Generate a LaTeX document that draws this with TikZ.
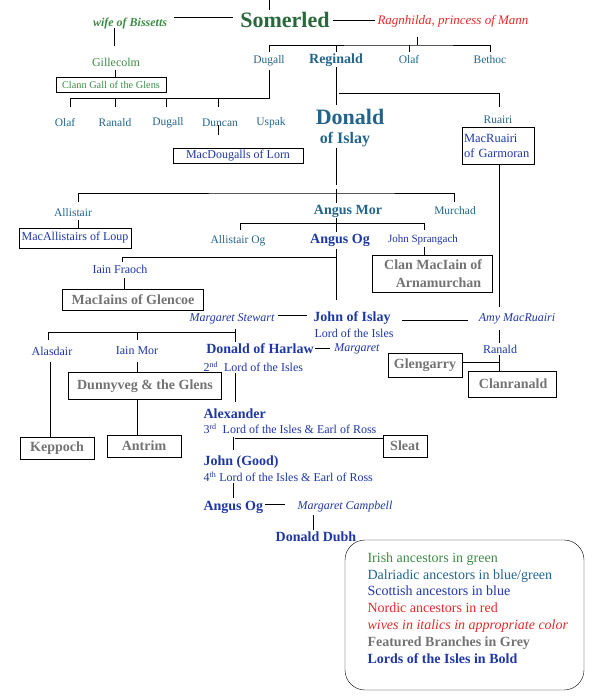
\documentclass[tikz,border=0pt]{standalone}
\usepackage{fontspec}
\setmainfont{Liberation Serif}
\usetikzlibrary{calc}
\definecolor{irishgreen}{RGB}{60,140,70}
\definecolor{somgreen}{RGB}{40,105,60}
\definecolor{dalblue}{RGB}{35,100,140}
\definecolor{scotblue}{RGB}{30,55,165}
\definecolor{nordred}{RGB}{230,40,40}
\definecolor{branchgrey}{RGB}{115,115,115}
\tikzset{
  irish/.style={text=irishgreen,font=\fontsize{12}{14}\selectfont},
  dal/.style={text=dalblue,font=\fontsize{11.5}{13}\selectfont},
  scot/.style={text=scotblue,font=\fontsize{12}{14}\selectfont},
  lord/.style={text=scotblue,font=\fontsize{14}{16}\selectfont\bfseries},
  wife/.style={text=scotblue,font=\fontsize{12}{14}\selectfont\itshape},
  clan/.style={draw,thick,inner sep=2pt,align=left},
  branch/.style={clan,text=branchgrey,font=\fontsize{14}{18}\selectfont\bfseries},
  kin/.style={thick}
}
\begin{document}
\begin{tikzpicture}[x=1pt,y=-1pt]
  \useasboundingbox (0,0) rectangle (600,700);

  % top generation
  \node (somerled) at (285,20) [text=somgreen,font=\fontsize{22}{24}\selectfont\bfseries] {Somerled};
  \node (bissetts) at (130,24) [irish,font=\fontsize{12}{14}\selectfont\bfseries\itshape] {wife of Bissetts};
  \node (ragnhilda) at (453,21) [text=nordred,font=\fontsize{13}{15}\selectfont\itshape] {Ragnhilda, princess of Mann};
  \coordinate (topend) at (269,0);
  \draw[kin] (topend) -- ++(0,10);
  \draw[kin] (174,17) -- (233,17);
  \draw[kin] (333,20) -- (375,20);

  \node (gillecolm) at (116,62) [irish] {Gillecolm};
  \node (clanngall) at (111,85) [clan,irish,font=\fontsize{10.3}{12}\selectfont,minimum width=110pt,minimum height=15pt] {Clann Gall of the Glens};
  \draw[kin] (114,28) -- (114,46);
  \draw[kin] (115,70) -- (clanngall.north -| 115,0);

  \node (dugall) at (269,61) [dal] {Dugall};
  \node (reginald) at (336,60) [lord,text=dalblue] {Reginald};
  \node (olaf) at (409,60) [dal] {Olaf};
  \node (bethoc) at (490,60) [dal] {Bethoc};
  \coordinate (sons) at (417,45);
  \draw[kin] (sons) -- ++(0,-8);
  \draw[kin] (269,52) |- (sons) -| (490,52);
  \draw[kin] (336,45) -- (336,52);
  \draw[kin] (409,45) -- (409,52);

  % sons of Dugall
  \foreach \nm/\x/\lb in {olafb/65/Olaf, ranald/115/Ranald, dugallb/168/Dugall, duncan/220/Duncan, uspak/271/Uspak}
    \node (\nm) at (\x,123) [dal] {\lb};
  \draw[kin] (dugall.south) -- (269,98) -| (70,107);
  \foreach \x in {115,166,218}
    \draw[kin] (\x,98) -- (\x,107);
  \node (lorn) at (238,156) [clan,scot,minimum width=130pt,minimum height=14pt] {MacDougalls of Lorn};
  \draw[kin] (218,125) -- (218,135);

  % Donald of Islay
  \node (donald) at (350,117) [lord,text=dalblue,font=\fontsize{22}{24}\selectfont\bfseries] {Donald};
  \node (donaldb) at (345,140) [lord,text=dalblue,font=\fontsize{16}{18}\selectfont\bfseries] {of Islay};
  \draw[kin] (336,67) -- (336,105);
  \draw[kin] (339,93) -| (499,107);
  \node (ruairi) at (498,120) [dal] {Ruairi};
  \node (garmoran) at (498,146) [clan,scot,text width=68pt,minimum height=37pt,font=\fontsize{12.5}{15}\selectfont] {MacRuairi of Garmoran};
  \draw[kin] (336,148) -- (336,185);

  % sons of Donald
  \coordinate (gen3) at (336,193);
  \draw[kin] (gen3) -- ++(0,-4);
  \draw[kin] (78,202) |- (gen3) -| (454,202);
  \node (allistair) at (73,213) [dal] {Allistair};
  \node (loup) at (75,238) [clan,scot,minimum width=112pt,minimum height=20pt] {MacAllistairs of Loup};
  \draw[kin] (78,220) -- (loup.north -| 78,0);
  \node (angusmor) at (348,211) [lord,text=dalblue] {Angus Mor};
  \node (murchad) at (455,211) [dal] {Murchad};
  \draw[kin] (336,193) -- (336,203);

  % sons of Angus Mor
  \node (allistairog) at (238,241) [dal] {Allistair Og};
  \node (angusog) at (340,240) [lord] {Angus Og};
  \node (sprangach) at (423,240) [scot,font=\fontsize{11}{13}\selectfont] {John Sprangach};
  \draw[kin] (240,230) |- (424,223) -- (424,230);
  \draw[kin] (336,218) -- (336,232);
  \node (arnamurchan) at (432,274) [branch,minimum width=120pt,minimum height=37pt] {\,Clan MacIain of\\\quad Arnamurchan};
  \draw[kin] (424,247) -- (arnamurchan.north -| 424,0);

  \node (fraoch) at (120,269) [scot] {Iain Fraoch};
  \node (glencoe) at (133,300) [branch,minimum width=141pt,minimum height=21pt] {MacIains of Glencoe};
  \draw[kin] (336,249) -- (336,300);
  \draw[kin] (336,257) -| (122,262);
  \draw[kin] (124,278) -- (glencoe.north -| 124,0);

  % John of Islay
  \node (john) at (352,318) [lord] {John of Islay};
  \node (johnb) at (354,333) [scot] {Lord of the Isles};
  \node (mstewart) at (232,319) [wife] {Margaret Stewart};
  \node (amy) at (517,319) [wife] {Amy MacRuairi};
  \draw[kin] (278,315) -- (307,315);
  \draw[kin] (402,320) -- (468,320);
  \draw[kin] (garmoran.south -| 499,0) -- (499,307);

  % sons of John by Margaret Stewart
  \draw[kin] (235,329) -- (235,342);
  \draw[kin] (48,340) |- (235,332);
  \draw[kin] (137,332) -- (137,340);
  \node (alasdair) at (52,351) [scot] {Alasdair};
  \node (iainmor) at (137,351) [scot] {Iain Mor};
  \node (dunnyveg) at (145,386) [branch,minimum width=153pt,minimum height=27pt] {Dunnyveg \& the Glens};
  \node (keppoch) at (57,448) [branch,minimum width=74pt,minimum height=22pt] {Keppoch};
  \node (antrim) at (144,446) [branch,minimum width=74pt,minimum height=22pt] {Antrim};
  \draw[kin] (50,362) -- (keppoch.north -| 50,0);
  \draw[kin] (137,362) -- (dunnyveg.north -| 137,0);
  \draw[kin] (dunnyveg.south -| 137,0) -- (antrim.north -| 137,0);

  \node (harlaw) at (260,349) [lord] {Donald of Harlaw};
  \node (margaret) at (357,349) [wife] {Margaret};
  \draw[kin] (315,348) -- (330,348);
  \node[anchor=west] (harlawb) at (200,367) [scot] {2\textsuperscript{nd}\enspace Lord of the Isles};
  \draw[kin] (235,373) -- (235,402);

  % sons of John by Amy
  \node (ranaldb) at (500,349) [scot] {Ranald};
  \draw[kin] (499,330) -- (499,343);
  \node (glengarry) at (425,365) [branch,minimum width=74pt,minimum height=24pt] {Glengarry};
  \node (clanranald) at (512,384) [branch,minimum width=88pt,minimum height=26pt] {\,Clanranald\hfill};
  \draw[kin] (499,355) -- (clanranald.north -| 499,0);
  \draw[kin] (glengarry.east |- 499,362) -- (499,362);

  % later Lords
  \node[anchor=west] (alexander) at (200,414) [lord] {Alexander};
  \node[anchor=west] (alexanderb) at (200,429) [scot] {3\textsuperscript{rd}\enspace Lord of the Isles \& Earl of Ross};
  \node (sleat) at (405,446) [branch,minimum width=44pt,minimum height=22pt] {Sleat};
  \draw[kin] (233,437) -- (233,450);
  \draw[kin] (235,438) -- (sleat.west |- 235,438);

  \node[anchor=west] (johngood) at (200,462) [lord] {John (Good)};
  \node[anchor=west] (johngoodb) at (200,477) [scot] {4\textsuperscript{th} Lord of the Isles \& Earl of Ross};
  \draw[kin] (233,483) -- (233,498);

  \node[anchor=west] (angusogb) at (200,507) [lord] {Angus Og};
  \node (mcampbell) at (345,507) [wife] {Margaret Campbell};
  \draw[kin] (265,504) -- (285,504);
  \draw[kin] (313,515) -- (313,530);
  \node (dubh) at (316,537) [lord] {Donald Dubh};

  % legend
  \draw[thin,rounded corners=20pt] (345,540) rectangle (584,690);
  \node[anchor=west,align=left] (legend) at (364,608) [font=\fontsize{14}{16.8}\selectfont] {%
    {\color{irishgreen}Irish ancestors in green}\\
    {\color{dalblue}Dalriadic ancestors in blue/green}\\
    {\color{scotblue}Scottish ancestors in blue}\\
    {\color{nordred}Nordic ancestors in red}\\
    {\color{nordred}\itshape wives in italics in appropriate color}\\
    {\color{branchgrey}\bfseries Featured Branches in Grey}\\
    {\color{scotblue}\bfseries Lords of the Isles in Bold}};
\end{tikzpicture}
\end{document}
